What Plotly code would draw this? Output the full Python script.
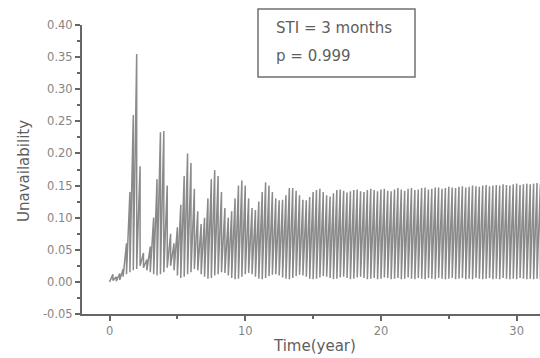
import plotly.graph_objects as go

# Surveillance test interval (STI = 3 months) in years
STI = 0.25

# Unavailability just before each test (t = 0.25, 0.50, ... 32.0)
peaks = [
    0.012, 0.008, 0.013, 0.020, 0.060, 0.140, 0.260, 0.355, 0.180, 0.045, 0.035, 0.055, 0.100, 0.160, 0.233, 0.235,
    0.150, 0.075, 0.060, 0.085, 0.120, 0.165, 0.200, 0.185, 0.145, 0.110, 0.090, 0.100, 0.130, 0.160, 0.174, 0.165,
    0.140, 0.115, 0.100, 0.110, 0.130, 0.150, 0.158, 0.150, 0.130, 0.115, 0.112, 0.125, 0.140, 0.155, 0.150, 0.140,
    0.130, 0.127, 0.128, 0.135, 0.146, 0.146, 0.142, 0.135, 0.128, 0.127, 0.132, 0.140, 0.143, 0.145, 0.140, 0.135,
    0.133, 0.138, 0.143, 0.144, 0.142, 0.139, 0.141, 0.143, 0.144, 0.141, 0.140, 0.143, 0.145, 0.143, 0.141, 0.144,
    0.145, 0.142, 0.141, 0.144, 0.146, 0.144, 0.142, 0.145, 0.146, 0.143, 0.144, 0.146, 0.147, 0.144, 0.145, 0.147,
    0.147, 0.145, 0.146, 0.148, 0.147, 0.146, 0.148, 0.149, 0.147, 0.148, 0.150, 0.149, 0.148, 0.150, 0.151, 0.149,
    0.150, 0.151, 0.150, 0.152, 0.151, 0.150, 0.152, 0.153, 0.151, 0.152, 0.153, 0.152, 0.153, 0.154, 0.152, 0.153,
]

# Unavailability just after each test (t = 0.00, 0.25, ... 31.75)
troughs = [
    0.000, 0.002, 0.001, 0.003, 0.008, 0.012, 0.015, 0.018, 0.020, 0.025, 0.022, 0.018, 0.015, 0.012, 0.010, 0.012,
    0.015, 0.022, 0.025, 0.018, 0.010, 0.006, 0.008, 0.012, 0.015, 0.020, 0.018, 0.012, 0.008, 0.005, 0.006, 0.010,
    0.012, 0.015, 0.014, 0.010, 0.006, 0.004, 0.005, 0.008, 0.012, 0.014, 0.012, 0.008, 0.005, 0.004, 0.006, 0.009,
    0.011, 0.012, 0.010, 0.007, 0.005, 0.004, 0.006, 0.009, 0.011, 0.010, 0.008, 0.005, 0.004, 0.005, 0.007, 0.009,
    0.008, 0.006, 0.004, 0.005, 0.007, 0.008, 0.006, 0.004, 0.005, 0.007, 0.008, 0.006, 0.004, 0.005, 0.006, 0.004,
    0.005, 0.007, 0.006, 0.004, 0.005, 0.006, 0.004, 0.005, 0.007, 0.005, 0.004, 0.006, 0.005, 0.004, 0.006, 0.005,
    0.004, 0.006, 0.005, 0.004, 0.005, 0.006, 0.004, 0.005, 0.006, 0.004, 0.005, 0.004, 0.006, 0.005, 0.004, 0.005,
    0.006, 0.004, 0.005, 0.004, 0.006, 0.005, 0.004, 0.005, 0.004, 0.006, 0.005, 0.004, 0.005, 0.004, 0.005, 0.004,
]

x_ticks = [0, 10, 20, 30]
y_ticks = [-0.05, 0.00, 0.05, 0.10, 0.15, 0.20, 0.25, 0.30, 0.35, 0.40]
y_labels = ["-0.05", "0.00", "0.05", "0.10", "0.15", "0.20", "0.25", "0.30", "0.35", "0.40"]

# Build sawtooth: after test k value = trough, rising to peak at next test
xs, ys = [], []
for k, tr in enumerate(troughs):
    t = k * STI
    if k > 0:
        xs.append(t)
        ys.append(peaks[k - 1])
    xs.append(t)
    ys.append(tr)
xs.append(len(troughs) * STI)
ys.append(peaks[len(troughs) - 1])

FONT = "DejaVu Sans"
AX = "#666666"
TXT = "#858585"
TITLE = "#5e5e5e"

fig = go.Figure()
fig.add_trace(go.Scatter(x=xs, y=ys, mode="lines",
                         line=dict(color="#8a8a8a", width=1.5), showlegend=False,
                         hoverinfo="skip"))

L, R, T, B = 82, 540, 25, 314
W, H = 540, 358

def px(xp):
    return (xp - L) / (R - L)

def py(yp):
    return (B - yp) / (B - T)

fig.update_layout(
    width=W, height=H,
    margin=dict(l=L, r=W - R, t=T, b=H - B),
    paper_bgcolor="white", plot_bgcolor="white",
    font=dict(family=FONT, color=TXT),
    xaxis=dict(range=[-2.03, 31.72], tickvals=x_ticks, ticktext=[str(v) for v in x_ticks],
               showgrid=False, zeroline=False, showline=True, linecolor=AX, linewidth=2,
               ticks="outside", ticklen=5, tickwidth=1.5, tickcolor=AX,
               tickfont=dict(size=11.5, color=TXT, family=FONT),
               minor=dict(tickvals=[5, 15, 25], ticks="outside", ticklen=3, tickwidth=1.5, tickcolor=AX)),
    yaxis=dict(range=[-0.05, 0.40], tickvals=y_ticks, ticktext=y_labels,
               showgrid=False, zeroline=False, showline=True, linecolor=AX, linewidth=2,
               ticks="outside", ticklen=5, tickwidth=1.5, tickcolor=AX,
               tickfont=dict(size=11.5, color=TXT, family=FONT),
               minor=dict(tickvals=[-0.025, 0.025, 0.075, 0.125, 0.175, 0.225, 0.275, 0.325, 0.375],
                          ticks="outside", ticklen=3, tickwidth=1.5, tickcolor=AX)),
    shapes=[dict(type="rect", xref="paper", yref="paper",
                 x0=px(258), x1=px(415), y0=py(77), y1=py(9),
                 line=dict(color="#707070", width=1.5), fillcolor="rgba(0,0,0,0)")],
    annotations=[
        dict(text="STI = 3 months", xref="paper", yref="paper", x=px(274), y=py(28),
             xanchor="left", yanchor="middle", showarrow=False,
             font=dict(size=15, color=TITLE, family=FONT)),
        dict(text="p = 0.999", xref="paper", yref="paper", x=px(274), y=py(56),
             xanchor="left", yanchor="middle", showarrow=False,
             font=dict(size=15, color=TITLE, family=FONT)),
        dict(text="Unavailability", xref="paper", yref="paper", x=px(24), y=py(171),
             xanchor="center", yanchor="middle", textangle=-90, showarrow=False,
             font=dict(size=15, color=TITLE, family=FONT)),
        dict(text="Time(year)", xref="paper", yref="paper", x=px(314), y=py(346),
             xanchor="center", yanchor="middle", showarrow=False,
             font=dict(size=15, color=TITLE, family=FONT)),
    ],
)

fig.write_html("out.html")
